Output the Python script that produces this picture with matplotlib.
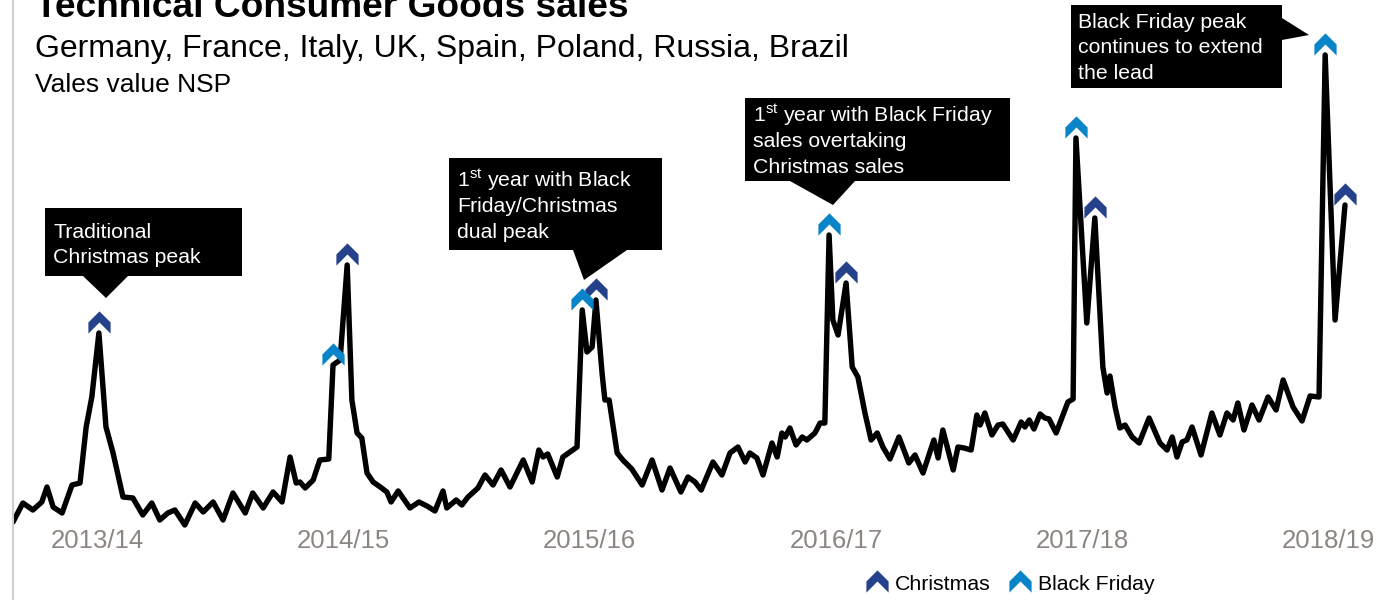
import numpy as np
import matplotlib.pyplot as plt
from matplotlib.path import Path
from matplotlib.patches import Polygon
from matplotlib.lines import Line2D
import matplotlib.transforms as mtransforms

plt.rcParams['font.family'] = ['Liberation Sans', 'DejaVu Sans']
plt.rcParams['mathtext.fontset'] = 'custom'
plt.rcParams['mathtext.rm'] = 'Liberation Sans'
plt.rcParams['mathtext.it'] = 'Liberation Sans'

# weekly sales, weeks counted from mid August 2013 (index)
weeks = [0.0, 2.1, 4.2, 6.1, 7.2, 8.5, 10.4, 12.5, 14.2, 15.5, 16.7, 18.2, 19.7,
         21.2, 23.3, 25.4, 27.5, 29.4, 31.1, 32.8, 34.3, 36.4, 38.6, 40.3, 42.4,
         44.5, 46.6, 49.2, 50.8, 53.0, 55.1, 57.0, 58.7, 60.0, 60.8, 61.9, 63.6,
         65.0, 66.9, 67.8, 69.3, 70.8, 71.8, 72.9, 73.9, 75.0, 76.3, 77.8, 79.2,
         80.1, 81.6, 84.1, 86.0, 87.7, 89.4, 91.1, 91.9, 93.9, 95.1, 96.4, 98.5,
         100.0, 101.7, 103.4, 105.3, 108.1, 110.0, 111.4, 112.3, 113.3, 115.3,
         116.5, 119.5, 120.6, 121.6, 122.7, 123.5, 124.8, 125.4, 126.3, 128.0,
         129.2, 131.1, 133.3, 135.4, 137.5, 139.2, 141.5, 143.0, 144.5, 145.8,
         148.3, 150.2, 151.9, 153.6, 155.1, 156.1, 157.6, 158.9, 160.8, 161.9,
         162.9, 163.6, 164.6, 165.9, 167.2, 168.2, 169.9, 171.0, 172.0, 172.9,
         173.7, 174.8, 176.5, 177.8, 179.0, 180.5, 181.8, 183.1, 184.3, 185.8,
         187.7, 189.8, 191.1, 192.8, 195.1, 196.0, 197.0, 199.2, 200.2, 201.5,
         203.0, 204.2, 204.9, 205.9, 207.4, 208.7, 209.7, 211.9, 213.6, 214.4,
         215.3, 216.3, 217.6, 218.6, 219.5, 221.0, 223.5, 224.6, 225.2, 227.5,
         229.2, 230.9, 231.8, 232.4, 233.5, 234.5, 235.6, 237.1, 238.6, 240.7,
         243.0, 244.5, 245.6, 246.6, 247.7, 248.7, 249.8, 251.7, 254.0, 255.7,
         257.2, 258.5, 259.5, 260.8, 262.5, 264.0, 265.9, 267.6, 269.1, 271.2,
         273.1, 274.8, 276.7, 278.0, 280.1, 282.2]
sales = [78, 97, 90, 98, 113, 93, 87, 115, 117, 173, 203, 267, 173,
         147, 103, 102, 85, 97, 80, 87, 90, 75, 97, 88, 98,
         80, 107, 87, 107, 92, 108, 98, 143, 117, 118, 112, 120,
         140, 141, 235, 240, 335, 200, 167, 162, 127, 118, 113, 108,
         98, 109, 92, 98, 94, 89, 109, 92, 100, 95, 103, 112,
         125, 115, 130, 113, 140, 118, 150, 143, 146, 123,
         143, 153, 290, 248, 253, 300, 227, 200, 200, 147,
         140, 131, 115, 140, 110, 132, 108, 123, 118, 110,
         138, 125, 147, 153, 138, 147, 142, 125, 157, 143,
         167, 163, 172, 155, 163, 160, 167, 177, 177, 365,
         280, 265, 317, 233, 223, 187, 160, 167, 153, 141,
         163, 137, 145, 127, 160, 142, 170, 130, 153, 152,
         150, 185, 175, 187, 165, 175, 176, 160, 178, 173,
         180, 171, 186, 182, 181, 167, 198, 201, 462, 277,
         382, 233, 207, 224, 193, 172, 175, 163, 157, 182,
         157, 150, 163, 143, 158, 160, 173, 145, 187, 165,
         187, 180, 197, 170, 195, 180, 203, 190, 220, 193,
         179, 204, 203, 545, 280, 395]

christmas_weeks = [18.2, 70.8, 123.5, 176.5, 229.2, 282.2]
black_friday_weeks = [67.8, 120.6, 172.9, 225.2, 278.0]
seasons = ['2013/14', '2014/15', '2015/16', '2016/17', '2017/18', '2018/19']

W, H = 1379, 600
NAVY = '#26418b'
BLUE = '#0a84c8'
GRAY = '#8c8581'

def fx(x):
    return x / W

def fy(y):
    return 1 - y / H

chevron = Path([(0, 1), (1, 0), (1, -1), (0, 0), (-1, -1), (-1, 0), (0, 1)],
               [Path.MOVETO] + [Path.LINETO] * 5 + [Path.CLOSEPOLY])

fig = plt.figure(figsize=(W / 100, H / 100), dpi=100)
ax = fig.add_axes([fx(13), 0, 1 - fx(13), 1])
ax.set_xlim(0, (W - 13) / 4.72)
ax.set_ylim(0, 600)
ax.axis('off')

ax.plot(weeks, sales, color='black', lw=3.9, solid_joinstyle='round',
        solid_capstyle='round', zorder=3)

up = mtransforms.offset_copy(ax.transData, fig, y=11, units='dots')
xmas_y = [sales[weeks.index(w)] for w in christmas_weeks]
bf_y = [sales[weeks.index(w)] for w in black_friday_weeks]
ax.plot(christmas_weeks, xmas_y, ls='none', marker=chevron, ms=16, mew=0,
        color=NAVY, transform=up, zorder=4, clip_on=False)
ax.plot(black_friday_weeks, bf_y, ls='none', marker=chevron, ms=16, mew=0,
        color=BLUE, transform=up, zorder=4, clip_on=False)

for k, s in enumerate(seasons):
    ax.text(17.8 + 52.18 * k, 600 - 548, s, ha='center', va='baseline',
            fontsize=18.5, color=GRAY)

# left border line
fig.add_artist(Line2D([fx(13), fx(13)], [0, 1], color='#cfcfcf', lw=1.5))

# titles (the main title runs off the top edge, as in the source)
fig.text(fx(35), fy(17), 'Technical Consumer Goods sales', fontsize=26.7,
         weight='bold', va='baseline')
fig.text(fx(35), fy(57), 'Germany, France, Italy, UK, Spain, Poland, Russia, Brazil',
         fontsize=23, va='baseline')
fig.text(fx(35), fy(92), 'Vales value NSP', fontsize=19, va='baseline')

# callouts
callouts = [
    ([(45, 208), (242, 208), (242, 276), (128, 276), (106, 298), (83, 276), (45, 276)],
     (53, 238), ['Traditional', 'Christmas peak']),
    ([(449, 158), (662, 158), (662, 250), (627, 250), (584, 280), (573, 250), (449, 250)],
     (457, 187), ['1$^{\\rm st}$ year with Black', 'Friday/Christmas', 'dual peak']),
    ([(745, 98), (1010, 98), (1010, 181), (855, 181), (833, 205), (790, 181), (745, 181)],
     (753, 122), ['1$^{\\rm st}$ year with Black Friday', 'sales overtaking',
                  'Christmas sales']),
    ([(1071, 5), (1282, 5), (1282, 18), (1309, 35), (1282, 40), (1282, 88), (1071, 88)],
     (1078, 28), ['Black Friday peak', 'continues to extend', 'the lead']),
]
for verts, (tx, ty), lines in callouts:
    fig.add_artist(Polygon([(fx(x), fy(y)) for x, y in verts], closed=True,
                           facecolor='black', edgecolor='none',
                           transform=fig.transFigure, zorder=5))
    for i, line in enumerate(lines):
        fig.text(fx(tx), fy(ty + 25.3 * i), line, color='white', fontsize=15.3,
                 va='baseline', zorder=6)

# legend
for mx, color, label in [(877, NAVY, 'Christmas'), (1020, BLUE, 'Black Friday')]:
    fig.add_artist(Line2D([fx(mx)], [fy(581)], ls='none', marker=chevron, ms=16,
                          mew=0, color=color, transform=fig.transFigure))
    fig.text(fx(mx + 18), fy(590), label, fontsize=15.3, va='baseline')

fig.savefig('out.png', dpi=100)
